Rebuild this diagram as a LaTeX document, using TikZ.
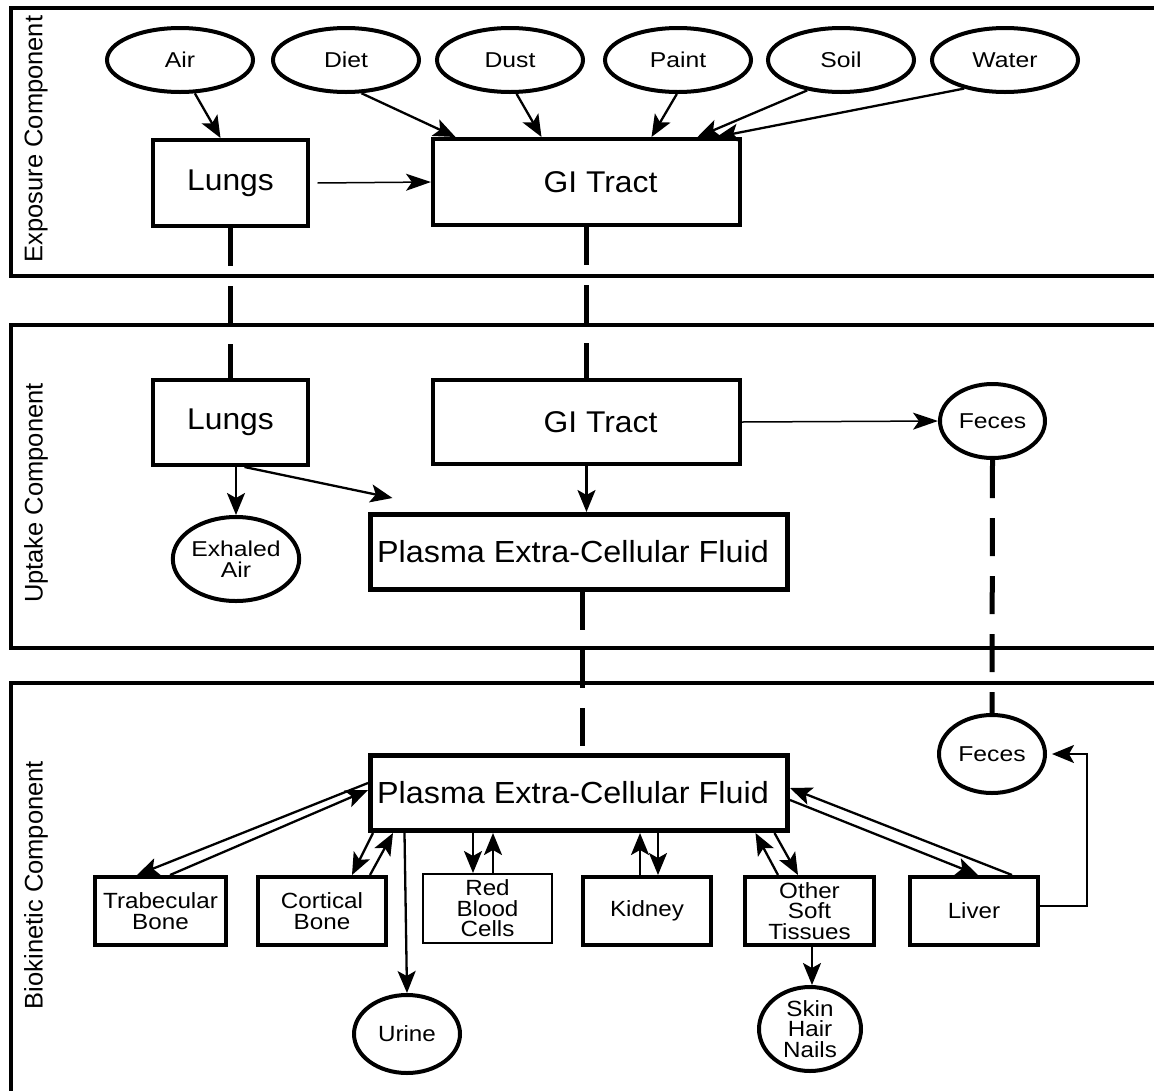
\documentclass[tikz,border=0pt]{standalone}
\usepackage{fontspec}
\setmainfont{Liberation Sans}
\newfontfamily\fbig{Liberation Sans}[FakeStretch=1.06]
\newfontfamily\fmid{Liberation Sans}[FakeStretch=1.1]
\newfontfamily\fsmall{Liberation Sans}[FakeStretch=1.15]
\usetikzlibrary{arrows.meta,shapes.geometric,calc}
\tikzset{
  panel/.style={draw,line width=4pt},
  plabel/.style={rotate=90,inner sep=0pt,font=\fontsize{25.5}{26}\selectfont},
  bigbox/.style={draw,rectangle,line width=4pt,inner sep=0pt,font=\fbig\fontsize{30}{30}\selectfont},
  plasbox/.style={draw,rectangle,line width=5pt,inner sep=0pt,minimum width=417pt,minimum height=75pt,font=\fbig\fontsize{30.5}{30}\selectfont},
  midbox/.style={draw,rectangle,line width=4pt,inner sep=0pt,align=center,minimum height=68pt,font=\fmid\fontsize{22}{20.5}\selectfont},
  src/.style={draw,ellipse,line width=4pt,inner sep=0pt,minimum width=146pt,minimum height=64pt,font=\fsmall\fontsize{21.5}{20}\selectfont},
  sink/.style={draw,ellipse,line width=4pt,inner sep=0pt,align=center,font=\fsmall\fontsize{21.5}{20.5}\selectfont},
  sinkm/.style={draw,ellipse,line width=4pt,inner sep=0pt,align=center,font=\fmid\fontsize{22}{20.5}\selectfont},
  arr/.style={line width=2.3pt,-{Stealth[length=22pt,width=18pt,inset=5pt]}},
  tarr/.style={line width=1.5pt,-{Stealth[length=25pt,width=17pt,inset=6pt]}},
  link/.style={line width=5pt,dash pattern=on 38pt off 20pt}
}
\begin{document}
\begin{tikzpicture}[x=1pt,y=-1pt]
\useasboundingbox (0,0) rectangle (1154,1090);
\clip (0,0) rectangle (1154,1090);
\fill[white] (0,0) rectangle (1154,1090);
% panels
\draw[panel] (11,8) rectangle (1175,276);
\draw[panel] (11,325) rectangle (1175,648);
\draw[panel] (11,683) rectangle (1175,1120);
\node[plabel] (lexp) at (36,139) {Exposure Component};
\node[plabel] (lupt) at (36,493) {Uptake Component};
\node[plabel] (lbio) at (36,885) {Biokinetic Component};
% exposure
\node[src] (air) at (180,60) {Air};
\node[src] (diet) at (346,60) {Diet};
\node[src] (dust) at (510,60) {Dust};
\node[src] (paint) at (678,60) {Paint};
\node[src] (soil) at (841,60) {Soil};
\node[src] (water) at (1005,60) {Water};
\node[bigbox,minimum width=155pt,minimum height=86pt] (lungE) at (230.5,183) {Lungs};
\node[bigbox,minimum width=307pt,minimum height=86pt] (giE) at (586.5,182) {\hspace*{28pt}GI Tract};
\draw[arr] (air.294) -- ([xshift=-10pt]lungE.north);
\draw[arr] (diet.295) -- ([xshift=-131pt]giE.north);
\draw[arr] (dust.281) -- ([xshift=-45pt]giE.north);
\draw[arr] (paint.268) -- ([xshift=65pt]giE.north);
\draw[arr] (soil.222) -- ([xshift=111pt]giE.north);
\draw[arr] (water.215) -- ([xshift=130pt]giE.north);
\draw[tarr] ([xshift=7.5pt]lungE.east) -- (giE.west);
% uptake
\node[bigbox,minimum width=155pt,minimum height=85pt] (lungU) at (230.5,422.5) {Lungs};
\node[bigbox,minimum width=307pt,minimum height=84pt] (giU) at (586.5,422) {\hspace*{28pt}GI Tract};
\node[sink,minimum width=105pt,minimum height=74pt] (fecesU) at (992.5,421) {Feces};
\node[sink,minimum width=106pt,minimum height=84pt] (exhaled) at (236,559) {Exhaled\\Air};
\node[plasbox] (plasmaU) at (579,552) {Plasma Extra-Cellular Fluid\hspace*{12pt}};
\draw[link] (lungE.south) -- (lungU.north);
\draw[link] (giE.south) -- (giU.north);
\draw[tarr] (giU.east) -- (fecesU.west);
\draw[arr] ([xshift=5.5pt]lungU.south) -- (exhaled.north);
\draw[arr] ([xshift=14pt]lungU.south) -- ([xshift=24.5pt,yshift=14pt]plasmaU.north west);
\draw[arr] (giU.south) -- (giU.south |- plasmaU.north);
% biokinetic
\node[plasbox] (plasmaB) at (579,793) {Plasma Extra-Cellular Fluid\hspace*{12pt}};
\node[sink,minimum width=106pt,minimum height=78pt] (fecesB) at (992,754) {Feces};
\node[midbox,minimum width=131pt] (trab) at (160.5,911) {Trabecular\\Bone};
\node[midbox,minimum width=128pt] (cort) at (322,911) {Cortical\\Bone};
\node[midbox,line width=2pt,minimum width=129pt,minimum height=69pt] (rbc) at (487.5,908.5) {Red\\Blood\\Cells};
\node[midbox,minimum width=128pt] (kid) at (647,911) {Kidney};
\node[midbox,minimum width=129pt] (ost) at (809.5,911) {Other\\Soft\\Tissues};
\node[midbox,minimum width=128pt] (liver) at (974,911) {Liver};
\node[sinkm,minimum width=106pt,minimum height=78pt] (urine) at (407,1034) {Urine};
\node[sinkm,minimum width=102pt,minimum height=84pt] (skin) at (810,1029) {Skin\\Hair\\Nails};
\draw[link] ([xshift=3pt]plasmaU.south) -- ([xshift=3pt]plasmaB.north);
\draw[link] (fecesU.south) -- (fecesB.north);
\draw[arr] ([yshift=10pt]plasmaB.west) -- ([xshift=-23.5pt]trab.north);
\draw[arr] ([xshift=9.5pt]trab.north) -- ([yshift=3pt]plasmaB.west);
\draw[arr] ([xshift=5pt]plasmaB.south west) -- ([xshift=30pt]cort.north);
\draw[arr] ([xshift=48pt]cort.north) -- ([xshift=25pt]plasmaB.south west);
\draw[arr] ([xshift=36.5pt]plasmaB.south west) -- (urine.north);
\draw[arr] ([xshift=-14.5pt]rbc.north |- plasmaB.south) -- ([xshift=-14.5pt]rbc.north);
\draw[arr] ([xshift=5.5pt]rbc.north) -- ([xshift=5.5pt]rbc.north |- plasmaB.south);
\draw[arr] ([xshift=-7pt]kid.north) -- ([xshift=-7pt]kid.north |- plasmaB.south);
\draw[arr] ([xshift=11pt]kid.north |- plasmaB.south) -- ([xshift=11pt]kid.north);
\draw[arr] ([xshift=-31.5pt]ost.north) -- ([xshift=-34.5pt]plasmaB.south east);
\draw[arr] ([xshift=-15.5pt]plasmaB.south east) -- ([xshift=-11.5pt]ost.north);
\draw[arr] ([yshift=-7pt]plasmaB.east) -- ([xshift=4pt]liver.north);
\draw[arr] ([xshift=38pt]liver.north) -- ([yshift=5pt]plasmaB.east);
\draw[arr] ([xshift=2.5pt]ost.south) -- ([xshift=2.5pt]ost.south |- skin.north);
\draw[line width=2pt,-{Stealth[length=22pt,width=18pt,inset=5pt]},shorten >=5pt]
  ([yshift=5pt]liver.east) -- ++(47,0) |- (fecesB.east);
\end{tikzpicture}
\end{document}
